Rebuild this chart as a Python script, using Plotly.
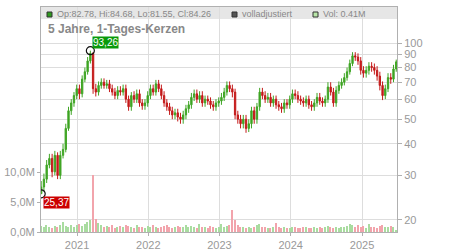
import math
import pandas as pd
import plotly.graph_objects as go

# ---------------- data (biweekly candles) ----------------
start_date = "2020-07-01"
n_points = 131
dates = pd.date_range(start_date, periods=n_points, freq="14D")

opens = [25.4, 27, 29, 33, 35, 31, 36, 30, 36, 38,
         46, 54, 58, 62, 66, 63, 72, 77, 85, 91,
         66, 64, 68, 70, 68, 69, 66, 64, 62, 65,
         64, 66, 60, 56, 62, 60, 63, 58, 56.5, 58,
         62, 66, 64, 69, 66, 62, 58, 56, 54, 52,
         53, 51, 50, 52, 55, 57, 61, 63, 60, 62,
         58, 60, 59, 57, 56, 58, 59, 61, 64, 68,
         66, 64, 52, 50, 48, 50, 46, 48, 54, 50,
         56, 64, 62, 60, 61, 58, 60, 57, 56, 55,
         58, 57, 60, 63, 62, 60, 59, 58, 60, 57,
         56, 58, 61, 59, 58, 60, 67, 64, 58, 65,
         68, 70, 73, 77, 83, 89, 88, 85, 78, 76,
         78, 81, 80, 78, 74, 68, 62, 66, 73, 72,
         79]
closes = [27, 29, 33, 35, 31, 36, 30, 36, 38, 46,
          54, 58, 62, 66, 63, 72, 77, 85, 91, 66,
          64, 68, 70, 68, 69, 66, 64, 62, 65, 64,
          66, 60, 56, 62, 60, 63, 58, 56.5, 58, 62,
          66, 64, 69, 66, 62, 58, 56, 54, 52, 53,
          51, 50, 52, 55, 57, 61, 63, 60, 62, 58,
          60, 59, 57, 56, 58, 59, 61, 64, 68, 66,
          64, 52, 50, 48, 50, 46, 48, 54, 50, 56,
          64, 62, 60, 61, 58, 60, 57, 56, 55, 58,
          57, 60, 63, 62, 60, 59, 58, 60, 57, 56,
          58, 61, 59, 58, 60, 67, 64, 58, 65, 68,
          70, 73, 77, 83, 89, 88, 85, 78, 76, 78,
          81, 80, 78, 74, 68, 62, 66, 73, 72, 79,
          84.26]
highs = [28.5, 30.5, 34.5, 36.5, 36.5, 37.5, 37, 37.5, 40, 48,
         56, 60, 64, 68.5, 68.5, 74.5, 80, 88, 93.26, 92,
         69, 70.5, 72.5, 72.5, 71.5, 71.5, 68.5, 66.5, 67.5, 67.5,
         68.5, 68.5, 62, 64, 64.5, 65.5, 65.5, 60, 60, 64.5,
         68.5, 68.5, 71.5, 71.5, 68.5, 64.5, 60, 58, 56, 55,
         55, 53, 54, 57, 59, 63.5, 65.5, 65.5, 64.5, 64.5,
         62, 62, 61, 59, 60, 61, 63.5, 66.5, 70.5, 70.5,
         68.5, 66, 54, 52, 52, 52, 50, 56, 56, 58,
         66.5, 66.5, 64.5, 63.5, 63.5, 62, 62, 59, 58, 60,
         60, 62, 65.5, 65.5, 64.5, 62, 61, 62, 62, 59,
         60, 63.5, 63.5, 61, 62, 70, 70, 66.5, 67.5, 70.5,
         72.5, 76, 80, 86, 92, 92, 91, 88, 81, 81,
         84, 84, 83, 81, 77, 70.5, 68.5, 76, 76, 82,
         86]
lows = [25.37, 26, 28, 32, 29.5, 30, 29, 29, 35, 37,
        45, 52, 56, 60, 60, 61, 70, 75, 83, 63,
        61.5, 62, 66, 66, 66, 64, 62, 60, 60, 62,
        62, 58, 54, 54, 58, 58, 56, 54.5, 54.5, 56,
        60, 62, 62, 64, 60, 56, 54, 52, 50, 50,
        49, 48, 48, 50, 53, 55, 59, 58, 58, 56,
        56, 57, 55, 54, 54, 56, 57, 59, 62, 64,
        61, 50, 48, 46, 46, 44.2, 44.5, 46, 48, 48,
        54, 60, 58, 58, 56, 56, 55, 54, 53, 53,
        55, 55, 58, 60, 58, 57, 56, 56, 55, 54,
        54, 56, 57, 56, 56, 58, 62, 56, 56, 63,
        66, 68, 71, 75, 81, 85, 82, 75, 73, 73,
        75, 77, 75, 71, 65, 59.5, 60, 64, 69, 70,
        77]
volumes_m = [1.0, 0.8, 1.1, 0.9, 0.7, 1.0, 0.8, 1.2, 1.7, 1.0,
             0.9, 1.2, 0.8, 1.1, 1.3, 1.0, 1.4, 1.6, 2.0, 9.5,
             2.2, 1.5, 1.2, 0.9, 1.0, 0.8, 1.1, 0.7, 0.9, 1.0,
             0.8, 1.2, 1.0, 0.9, 0.7, 1.1, 0.8, 0.9, 0.7, 1.0,
             0.8, 1.2, 0.9, 0.7, 0.8, 1.0, 1.2, 0.8, 0.7, 0.9,
             1.0, 0.8, 0.9, 1.1, 0.8, 1.0, 0.9, 0.7, 1.3, 0.8,
             0.9, 0.7, 1.0, 0.8, 0.7, 0.9, 1.3, 0.8, 1.0, 1.2,
             3.6, 2.0, 1.2, 0.9, 0.8, 0.7, 0.9, 0.6, 0.8, 1.1,
             1.4, 0.9, 0.8, 0.7, 0.6, 0.8, 1.5, 0.9, 0.7, 0.8,
             0.6, 0.7, 0.9, 0.8, 0.6, 0.7, 0.8, 0.9, 0.6, 0.7,
             0.8, 0.6, 0.9, 0.7, 0.8, 1.0, 0.9, 0.7, 0.8, 0.7,
             0.9, 0.8, 1.0, 1.4, 1.1, 0.9, 1.2, 0.8, 1.0, 0.7,
             1.3, 0.8, 0.9, 0.7, 1.0, 1.1, 0.8, 0.9, 1.0, 0.8,
             0.41]

price_ticks = [20, 30, 40, 50, 60, 70, 80, 90, 100]
vol_ticks = [0, 5e6, 10e6]
vol_tick_labels = ["0,0M", "5,0M", "10,0M"]
year_ticks = ["2021-01-01", "2022-01-01", "2023-01-01", "2024-01-01", "2025-01-01"]
year_labels = ["2021", "2022", "2023", "2024", "2025"]

title_text = "5 Jahre, 1-Tages-Kerzen"
header_ohlc = "Op:82.78, Hi:84.68, Lo:81.55, Cl:84.26"
header_adj = "volladjustiert"
header_vol = "Vol: 0.41M"
peak_label = "93,26"
low_label = "25,37"

# ---------------- styling ----------------
W, H = 450, 250
L, R, T, B = 41, 53, 7, 18
PW, PH = W - L - R, H - T - B
FONT = "Liberation Sans, Arial, sans-serif"
GREY = "#999999"
UP, DOWN = "#3fa524", "#c41a1a"
VUP, VDOWN = "#a9dca0", "#f2a4ac"


def px(xp):
    return (xp - L) / PW


def py(yp):
    return (H - B - yp) / PH


vol_colors = [VUP if c >= o else VDOWN for o, c in zip(opens, closes)]
volumes = [v * 1e6 for v in volumes_m]

fig = go.Figure()
fig.add_trace(go.Bar(
    x=dates, y=volumes, marker=dict(color=vol_colors, line=dict(width=0)),
    width=7 * 24 * 3600 * 1000, yaxis="y", showlegend=False, hoverinfo="skip"))
fig.add_trace(go.Candlestick(
    x=dates, open=opens, high=highs, low=lows, close=closes, yaxis="y2",
    increasing=dict(line=dict(color=UP, width=1), fillcolor=UP),
    decreasing=dict(line=dict(color=DOWN, width=1), fillcolor=DOWN),
    whiskerwidth=0, showlegend=False))

i_peak = highs.index(max(highs))
i_low = lows.index(min(lows))
fig.add_trace(go.Scatter(
    x=[dates[i_peak], dates[i_low]], y=[highs[i_peak], lows[i_low]], yaxis="y2",
    mode="markers", marker=dict(symbol="circle-open", size=8, color="#111111",
                                line=dict(width=1.2, color="#111111")),
    showlegend=False, hoverinfo="skip"))

shapes = [
    dict(type="rect", xref="paper", yref="paper", x0=0, x1=1, y0=py(19), y1=1,
         fillcolor="#e6e6e6", line=dict(width=0), layer="below"),
    dict(type="rect", xref="paper", yref="paper", x0=px(47), x1=px(52), y0=py(17), y1=py(12),
         fillcolor="#2f9a1e", line=dict(width=1, color="#333333")),
    dict(type="rect", xref="paper", yref="paper", x0=px(232), x1=px(237), y0=py(17), y1=py(12),
         fillcolor="#555555", line=dict(width=1, color="#333333")),
    dict(type="rect", xref="paper", yref="paper", x0=px(313), x1=px(318), y0=py(17), y1=py(12),
         fillcolor="#b8e6a8", line=dict(width=1, color="#333333")),
]

annotations = [
    dict(xref="paper", yref="paper", x=px(55), y=py(14.5), xanchor="left", yanchor="middle",
         text=header_ohlc, showarrow=False, font=dict(family=FONT, size=9, color="#888888")),
    dict(xref="paper", yref="paper", x=px(240), y=py(14.5), xanchor="left", yanchor="middle",
         text=header_adj, showarrow=False, font=dict(family=FONT, size=9, color="#888888")),
    dict(xref="paper", yref="paper", x=px(321), y=py(14.5), xanchor="left", yanchor="middle",
         text=header_vol, showarrow=False, font=dict(family=FONT, size=9, color="#888888")),
    dict(xref="paper", yref="paper", x=px(46), y=py(29.5), xanchor="left", yanchor="middle",
         text="<b>" + title_text + "</b>", showarrow=False,
         font=dict(family=FONT, size=12, color="#888888")),
    dict(x=dates[i_peak], y=math.log10(highs[i_peak]),
         xref="x", yref="y2", xanchor="left", yanchor="bottom", xshift=2, yshift=2,
         text=peak_label, showarrow=False, bgcolor="#0a9a0a", borderpad=0,
         font=dict(family=FONT, size=10, color="white")),
    dict(x=dates[i_low], y=math.log10(lows[i_low]),
         xref="x", yref="y2", xanchor="left", yanchor="top", xshift=2, yshift=-2,
         text=low_label, showarrow=False, bgcolor="#cc0000", borderpad=0,
         font=dict(family=FONT, size=10, color="white")),
]

fig.update_layout(
    width=W, height=H, margin=dict(l=L, r=R, t=T, b=B, autoexpand=False),
    paper_bgcolor="white", plot_bgcolor="white",
    font=dict(family=FONT, size=11, color=GREY),
    showlegend=False, bargap=0,
    shapes=shapes, annotations=annotations,
    xaxis=dict(type="date", range=["2020-06-30", "2025-06-29"],
               tickvals=year_ticks, ticktext=year_labels, automargin=False,
               showgrid=True, gridcolor="#dddddd", gridwidth=1,
               showline=True, linecolor="#b0b0b0", mirror=True,
               ticks="outside", ticklen=3, tickcolor="#b0b0b0",
               tickfont=dict(family=FONT, size=11, color=GREY),
               rangeslider=dict(visible=False), zeroline=False),
    yaxis=dict(range=[0, 37.5e6], tickvals=vol_ticks, ticktext=vol_tick_labels,
               side="left", showgrid=False, zeroline=False, automargin=False,
               showline=True, linecolor="#b0b0b0",
               ticks="outside", ticklen=3, tickcolor="#b0b0b0",
               tickfont=dict(family=FONT, size=11, color=GREY)),
    yaxis2=dict(type="log", overlaying="y", side="right", automargin=False,
                range=[1.2536, 2.1422], tickvals=price_ticks,
                ticktext=[str(t) for t in price_ticks],
                showgrid=True, gridcolor="#dddddd", gridwidth=1,
                showline=True, linecolor="#b0b0b0", zeroline=False,
                ticks="outside", ticklen=4, tickcolor="#b0b0b0",
                tickfont=dict(family=FONT, size=11, color=GREY)),
)

fig.write_html("out.html")
